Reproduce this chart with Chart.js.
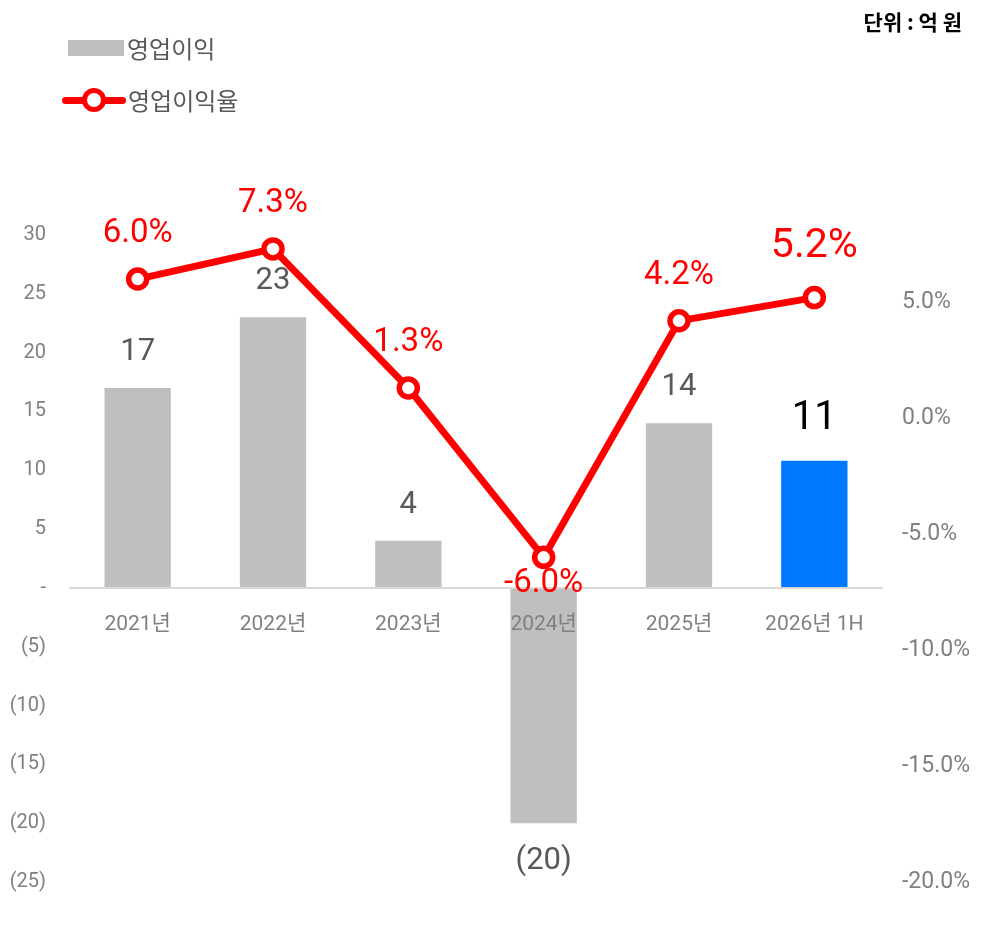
<!DOCTYPE html>
<html>
<head>
<meta charset="utf-8">
<script src="https://cdn.jsdelivr.net/npm/chart.js@4/dist/chart.umd.min.js"></script>
<style>
  html, body { margin: 0; padding: 0; background: #fff; }
  #wrap { position: relative; width: 996px; height: 930px; font-family: Roboto, 'Noto Sans CJK KR', sans-serif; }
  canvas { position: absolute; left: 0; top: 0; }
  .unit { position: absolute; right: 34px; top: 6px; font-size: 21px; font-weight: bold; color: #000; font-family: 'Noto Sans CJK KR', Roboto, sans-serif; }
  .leg { position: absolute; left: 62px; display: flex; align-items: center; font-size: 24px; color: #595959; font-family: 'Noto Sans CJK KR', sans-serif; }
  .leg1 { top: 30px; }
  .leg2 { top: 82px; }
  .box { width: 56px; height: 16px; background: #bfbfbf; margin-left: 6px; margin-right: 3px; }
  .lineicon { position: relative; width: 64px; height: 30px; margin-right: 2px; }
  .lineicon .l { position: absolute; left: 0; top: 12px; width: 64px; height: 7px; background: #ff0000; border-radius: 4px; }
  .lineicon .c { position: absolute; left: 20px; top: 3px; width: 14px; height: 14px; border: 5.5px solid #ff0000; border-radius: 50%; background: #fff; }
</style>
</head>
<body>
<div id="wrap">
  <canvas id="c" width="996" height="930"></canvas>
  <div class="unit">단위 : 억 원</div>
  <div class="leg leg1"><div class="box"></div><span>영업이익</span></div>
  <div class="leg leg2"><div class="lineicon"><div class="l"></div><div class="c"></div></div><span>영업이익율</span></div>
</div>
<script>
const categories = ['2021년', '2022년', '2023년', '2024년', '2025년', '2026년 1H'];
const operatingProfit = [17, 23, 4, -20, 14, 10.8];
const operatingMargin = [6.0, 7.3, 1.3, -6.0, 4.2, 5.2];
const leftTicks = [30, 25, 20, 15, 10, 5, 0, -5, -10, -15, -20, -25];
const rightTicks = [5, 0, -5, -10, -15, -20];
const barColors = ['#bfbfbf', '#bfbfbf', '#bfbfbf', '#bfbfbf', '#bfbfbf', '#0078ff'];

const FONT = "Roboto, 'Noto Sans CJK KR', sans-serif";

const labelPlugin = {
  id: 'valueLabels',
  afterDraw(chart) {
    const ctx = chart.ctx;
    ctx.save();
    ctx.textAlign = 'center';
    ctx.textBaseline = 'middle';
    const barMeta = chart.getDatasetMeta(1);
    barMeta.data.forEach((el, i) => {
      const v = operatingProfit[i];
      const last = i === operatingProfit.length - 1;
      const txt = v < 0 ? '(' + Math.abs(Math.round(v)) + ')' : String(Math.round(v));
      ctx.font = (last ? '40px ' : '31px ') + FONT;
      ctx.fillStyle = last ? '#000000' : '#595959';
      const y = v < 0 ? el.y + 38 : el.y - (last ? 42 : 36);
      ctx.fillText(txt, el.x, y);
    });
    const lineMeta = chart.getDatasetMeta(0);
    lineMeta.data.forEach((el, i) => {
      const v = operatingMargin[i];
      const last = i === operatingMargin.length - 1;
      ctx.font = (last ? '41px ' : '33px ') + FONT;
      ctx.fillStyle = '#ff0000';
      const y = v < 0 ? el.y + 26 : el.y - (last ? 51 : 45);
      ctx.fillText(v.toFixed(1) + '%', el.x, y);
    });
    ctx.restore();
  }
};

new Chart(document.getElementById('c'), {
  data: {
    labels: categories,
    datasets: [
      {
        type: 'line',
        label: '영업이익율',
        data: operatingMargin,
        yAxisID: 'y1',
        order: 0,
        borderColor: '#ff0000',
        borderWidth: 7,
        pointRadius: 9,
        pointBorderWidth: 5.5,
        pointBackgroundColor: '#ffffff',
        pointBorderColor: '#ff0000',
        tension: 0
      },
      {
        type: 'bar',
        label: '영업이익',
        data: operatingProfit,
        yAxisID: 'y',
        order: 1,
        backgroundColor: barColors,
        barPercentage: 0.49,
        categoryPercentage: 1.0
      }
    ]
  },
  options: {
    responsive: false,
    animation: false,
    layout: { padding: { top: 235, bottom: 48, left: 0, right: 0 } },
    plugins: { legend: { display: false }, tooltip: { enabled: false } },
    scales: {
      x: {
        position: { y: 0 },
        offset: true,
        grid: { display: false, drawTicks: false },
        border: { display: true, color: '#d9d9d9', width: 2, z: 1 },
        ticks: { z: 1, autoSkip: false, color: '#808080', font: { size: 21, family: FONT }, padding: 24, maxRotation: 0 }
      },
      y: {
        position: 'left',
        min: -25,
        max: 30,
        grid: { display: false, drawTicks: false },
        border: { display: false },
        afterBuildTicks(scale) { scale.ticks = leftTicks.map(v => ({ value: v })); },
        afterFit(scale) { scale.width = 70; },
        ticks: {
          color: '#808080',
          font: { size: 20, family: FONT },
          padding: 24,
          callback(v) { return v === 0 ? '-' : (v < 0 ? '(' + Math.abs(v) + ')' : String(v)); }
        }
      },
      y1: {
        position: 'right',
        min: -20,
        max: 7.9,
        grid: { display: false, drawTicks: false },
        border: { display: false },
        afterBuildTicks(scale) { scale.ticks = rightTicks.map(v => ({ value: v })); },
        afterFit(scale) { scale.width = 114; },
        ticks: {
          color: '#808080',
          font: { size: 23, family: FONT },
          padding: 20,
          callback(v) { return v.toFixed(1) + '%'; }
        }
      }
    }
  },
  plugins: [labelPlugin]
});
</script>
</body>
</html>
